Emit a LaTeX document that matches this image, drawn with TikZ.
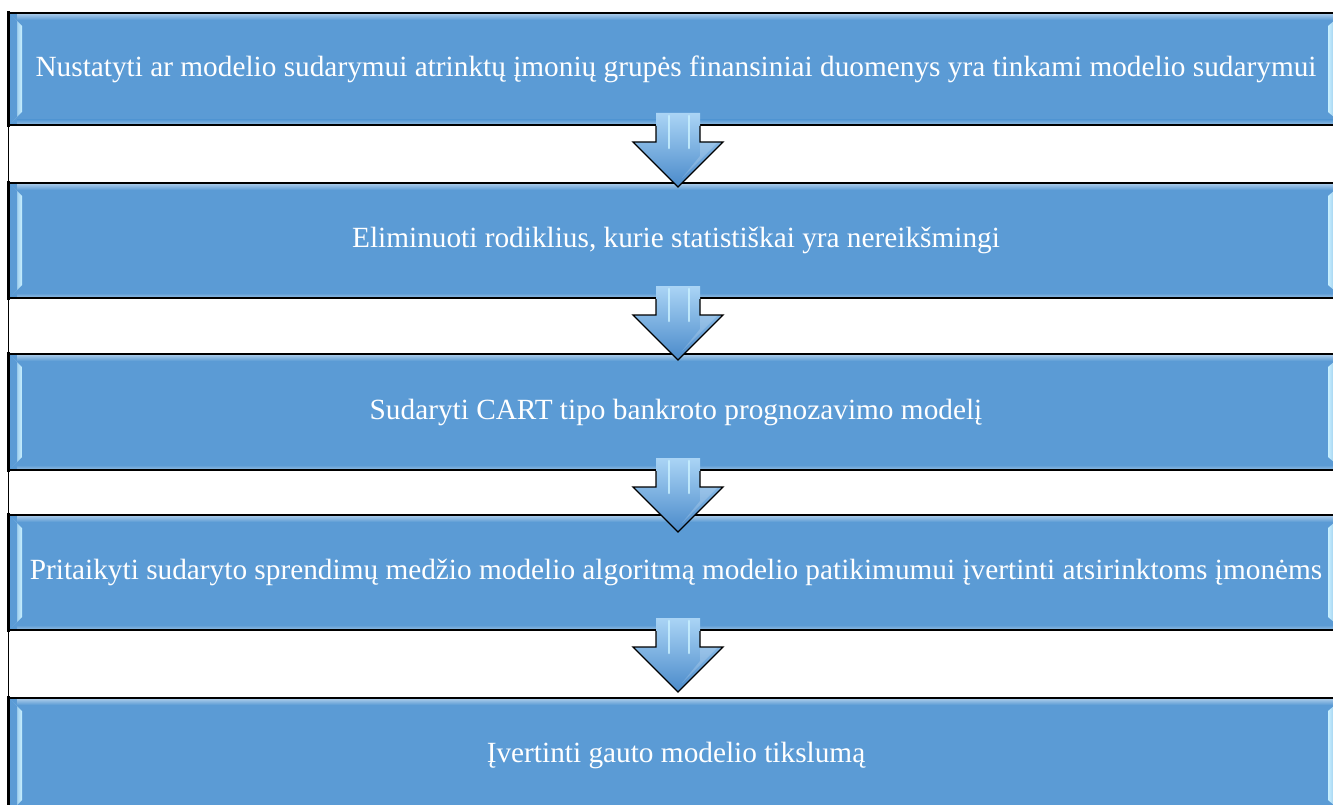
\documentclass[tikz,border=0pt]{standalone}
\usepackage{fontspec}
\setmainfont{Liberation Serif}
\usetikzlibrary{calc}
\definecolor{boxblue}{RGB}{91,155,213}
\definecolor{bevellight}{RGB}{200,240,255}
\definecolor{arrowtop}{RGB}{170,212,245}
\definecolor{arrowbot}{RGB}{74,138,202}
\tikzset{
  stepbox/.style={draw=black, line width=2pt, fill=boxblue, rectangle,
    anchor=north west, minimum width=1334pt, inner sep=0pt,
    text=white, font=\fontsize{29.3}{34}\selectfont,
    path picture={
      \coordinate (nw) at (path picture bounding box.north west);
      \coordinate (ne) at (path picture bounding box.north east);
      \coordinate (sw) at (path picture bounding box.south west);
      \coordinate (se) at (path picture bounding box.south east);
      % left bevel
      \shade[left color=boxblue!85!white, right color=bevellight]
        ($(nw)+(2,2)$) -- ($(nw)+(13,13)$) --
        ($(sw)+(13,-13)$) -- ($(sw)+(2,-2)$) -- cycle;
      \fill[boxblue] ($(nw)+(2,2)$) -- ($(nw)+(8,8)$) --
        ($(sw)+(8,-8)$) -- ($(sw)+(2,-2)$) -- cycle;
      % right bevel
      \shade[left color=bevellight, right color=boxblue!85!white]
        ($(ne)+(-15,13)$) -- ($(ne)+(-2,2)$) --
        ($(se)+(-2,-2)$) -- ($(se)+(-15,-13)$) -- cycle;
      \fill[boxblue] ($(ne)+(-10,8)$) -- ($(ne)+(-2,2)$) --
        ($(se)+(-2,-2)$) -- ($(se)+(-10,-8)$) -- cycle;
      % top and bottom sheen
      \shade[top color=boxblue!55!white, bottom color=boxblue]
        ($(nw)+(8,1)$) rectangle ($(ne)+(-8,7)$);
      \shade[top color=boxblue, bottom color=boxblue!70!white]
        ($(sw)+(8,-5)$) rectangle ($(se)+(-8,-1)$);
    }},
  arrowfill/.style={top color=arrowtop, bottom color=arrowbot},
  arrowline/.style={draw=black, line width=1.3pt, line join=miter},
  shine/.style={line width=2.6pt, color=bevellight, opacity=0.85, line cap=round},
}
\begin{document}
\begin{tikzpicture}[x=1pt, y=-1pt]
\useasboundingbox (0,0) rectangle (1333,805);
\clip (0,0) rectangle (1333,805);
\fill[white] (0,0) rectangle (1333,805);

% continuous left frame line
\draw[line width=1.6pt] (8.5,12) -- (8.5,812);

% the five process steps
\node[stepbox, minimum height=112pt] (b1) at (8,12)
  {Nustatyti ar modelio sudarymui atrinktų įmonių grupės finansiniai duomenys yra tinkami modelio sudarymui};
\node[stepbox, minimum height=115pt] (b2) at (8,182)
  {Eliminuoti rodiklius, kurie statistiškai yra nereikšmingi};
\node[stepbox, minimum height=116pt] (b3) at (8,353)
  {Sudaryti CART tipo bankroto prognozavimo modelį};
\node[stepbox, minimum height=115pt] (b4) at (8,514)
  {Pritaikyti sudaryto sprendimų medžio modelio algoritmą modelio patikimumui įvertinti atsirinktoms įmonėms};
\node[stepbox, minimum height=115pt] (b5) at (8,697)
  {Įvertinti gauto modelio tikslumą};

% heavy left edge of each step
\foreach \b in {b1,b2,b3,b4,b5}
  \draw[line width=3.6pt] ($(\b.north west)+(0.4,-1)$) -- ($(\b.south west)+(0.4,1)$);

% block arrows between consecutive steps
\foreach \a in {b1,b2,b3,b4} {
  \coordinate (s) at ($(\a.south)+(2,0)$);
  \shade[arrowfill]
    ($(s)+(-22,-13)$) -- ($(s)+(-22,16)$) -- ($(s)+(-45,16)$) --
    ($(s)+(0,61)$) -- ($(s)+(45,16)$) -- ($(s)+(22,16)$) --
    ($(s)+(22,-13)$) -- cycle;
  \fill[white, opacity=0.18]
    ($(s)+(4,52)$) -- ($(s)+(40,16)$) -- ($(s)+(22,16)$) -- ($(s)+(22,30)$) -- cycle;
  \draw[shine] ($(s)+(-9,-10)$) -- ($(s)+(-9,22)$);
  \draw[shine] ($(s)+(11,-10)$) -- ($(s)+(11,22)$);
  \draw[arrowline]
    ($(s)+(-22,0)$) -- ($(s)+(-22,16)$) -- ($(s)+(-45,16)$) --
    ($(s)+(0,61)$) -- ($(s)+(45,16)$) -- ($(s)+(22,16)$) -- ($(s)+(22,0)$);
}
\end{tikzpicture}
\end{document}
